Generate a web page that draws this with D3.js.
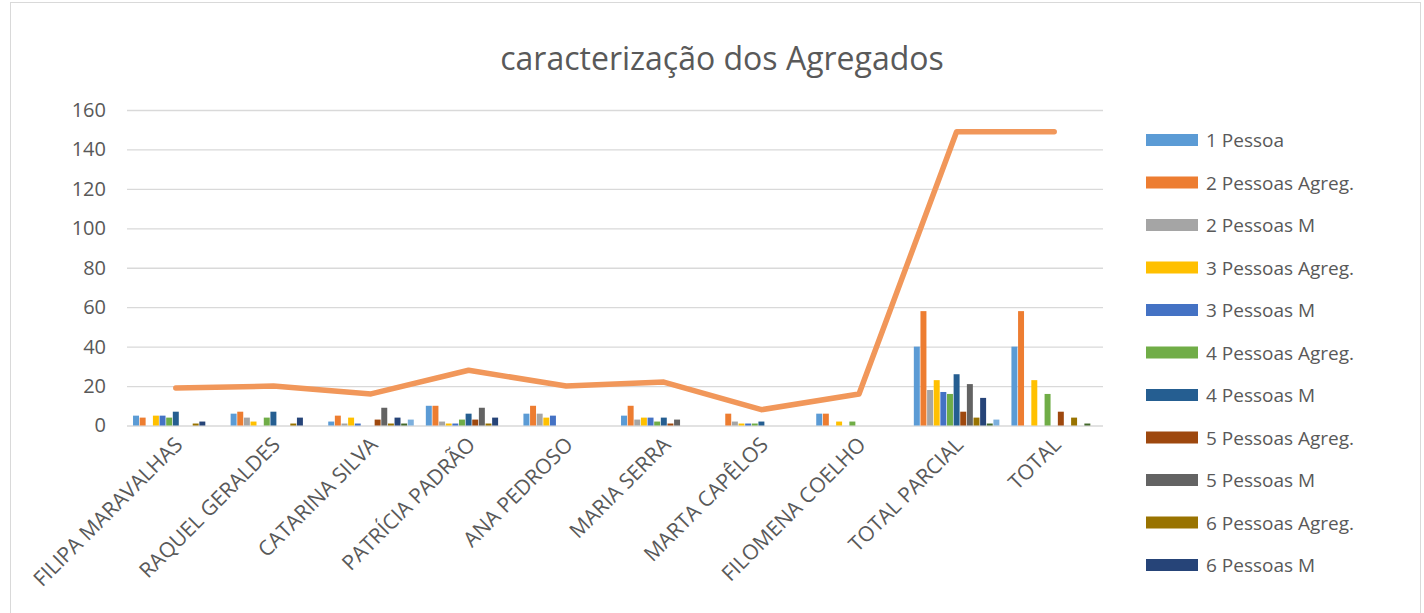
<!DOCTYPE html>
<html>
<head>
<meta charset="utf-8">
<script src="https://cdn.jsdelivr.net/npm/d3@7"></script>
<style>
  body { margin: 0; background: #fff; }
  svg { display: block; font-family: "Open Sans", "Noto Sans", sans-serif; }
</style>
</head>
<body>
<svg width="1424" height="613"></svg>
<script>
// categories (x axis)
var categories = ["FILIPA MARAVALHAS", "RAQUEL GERALDES", "CATARINA SILVA", "PATRÍCIA PADRÃO",
    "ANA PEDROSO", "MARIA SERRA", "MARTA CAPÊLOS", "FILOMENA COELHO", "TOTAL PARCIAL", "TOTAL"];

// bar series, one value per category
var seriesNames = ["1 Pessoa", "2 Pessoas Agreg.", "2 Pessoas M", "3 Pessoas Agreg.", "3 Pessoas M",
    "4 Pessoas Agreg.", "4 Pessoas M", "5 Pessoas Agreg.", "5 Pessoas M", "6 Pessoas Agreg.",
    "6 Pessoas M", "7 Pessoas Agreg.", "7 Pessoas M"];
var seriesColors = ["#5B9BD5", "#ED7D31", "#A5A5A5", "#FFC000", "#4472C4", "#70AD47",
    "#255E91", "#9E480E", "#636363", "#997300", "#264478", "#43682B", "#7CAFDD"];

var pessoa1      = [5, 6, 2, 10, 6, 5, 0, 6, 40, 40];
var pessoas2Agr  = [4, 7, 5, 10, 10, 10, 6, 6, 58, 58];
var pessoas2M    = [0, 4, 1, 2, 6, 3, 2, 0, 18, 0];
var pessoas3Agr  = [5, 2, 4, 1, 4, 4, 1, 2, 23, 23];
var pessoas3M    = [5, 0, 1, 1, 5, 4, 1, 0, 17, 0];
var pessoas4Agr  = [4, 4, 0, 3, 0, 2, 1, 2, 16, 16];
var pessoas4M    = [7, 7, 0, 6, 0, 4, 2, 0, 26, 0];
var pessoas5Agr  = [0, 0, 3, 3, 0, 1, 0, 0, 7, 7];
var pessoas5M    = [0, 0, 9, 9, 0, 3, 0, 0, 21, 0];
var pessoas6Agr  = [1, 1, 1, 1, 0, 0, 0, 0, 4, 4];
var pessoas6M    = [2, 4, 4, 4, 0, 0, 0, 0, 14, 0];
var pessoas7Agr  = [0, 0, 1, 0, 0, 0, 0, 0, 1, 1];
var pessoas7M    = [0, 0, 3, 0, 0, 0, 0, 0, 3, 0];

// line series (total de agregados)
var totalAgregados = [19, 20, 16, 28, 20, 22, 8, 16, 149, 149];

var yTicks = [0, 20, 40, 60, 80, 100, 120, 140, 160];

var seriesValues = [pessoa1, pessoas2Agr, pessoas2M, pessoas3Agr, pessoas3M, pessoas4Agr,
    pessoas4M, pessoas5Agr, pessoas5M, pessoas6Agr, pessoas6M, pessoas7Agr, pessoas7M];

var svg = d3.select("svg");

// chart frame
svg.append("rect")
    .attr("x", 10.5).attr("y", 2.5).attr("width", 1410).attr("height", 640)
    .attr("fill", "none").attr("stroke", "#d9d9d9");

var plotL = 127, plotR = 1103, plotT = 110, plotB = 425.5;

var x0 = d3.scaleBand().domain(categories).range([plotL, plotR])
    .paddingInner(0.11).paddingOuter(0.055);
var x1 = d3.scaleBand().domain(seriesNames).range([0, x0.bandwidth()]).padding(0.1);
var y = d3.scaleLinear().domain([0, 160]).range([plotB, plotT]);

// gridlines + y labels
var yAxis = svg.append("g")
    .attr("transform", "translate(" + plotL + ",0)")
    .call(d3.axisLeft(y).tickValues(yTicks).tickSize(-(plotR - plotL)).tickPadding(21));
yAxis.select(".domain").remove();
yAxis.selectAll("line").attr("stroke", "#d9d9d9").attr("stroke-width", 1.3);
yAxis.selectAll("text").attr("fill", "#595959").attr("font-size", 20)
    .attr("font-family", "Open Sans, sans-serif");

// bars
var groups = svg.append("g").selectAll("g")
    .data(categories).enter().append("g")
    .attr("transform", d => "translate(" + x0(d) + ",0)");

groups.selectAll("rect")
    .data((c, ci) => seriesNames.map((s, si) => ({ s: s, si: si, v: seriesValues[si][ci] })))
    .enter().append("rect")
    .attr("x", d => x1(d.s))
    .attr("width", x1.bandwidth())
    .attr("y", d => y(d.v))
    .attr("height", d => y(0) - y(d.v))
    .attr("fill", d => seriesColors[d.si]);

// line
var lineMaker = d3.line()
    .x((d, i) => x0(categories[i]) + x0.bandwidth() / 2)
    .y(d => y(d));

svg.append("path")
    .attr("fill", "none").attr("stroke", "#F1975A")
    .attr("stroke-width", 5.5).attr("stroke-linejoin", "round").attr("stroke-linecap", "round")
    .attr("d", lineMaker(totalAgregados));

// x labels, rotated
svg.append("g").selectAll("text")
    .data(categories).enter().append("text")
    .attr("transform", d => "translate(" + (x0(d) + x0.bandwidth() / 2 + 8) + ",446) rotate(-45)")
    .attr("text-anchor", "end")
    .attr("font-size", 21)
    .attr("fill", "#595959")
    .text(d => d);

// title
svg.append("text")
    .attr("x", 722).attr("y", 70)
    .attr("text-anchor", "middle")
    .attr("font-size", 32)
    .attr("fill", "#595959")
    .text("caracterização dos Agregados");

// legend (only the first 11 entries fit)
var legend = svg.append("g").selectAll("g")
    .data(seriesNames.slice(0, 11)).enter().append("g")
    .attr("transform", (d, i) => "translate(1146," + (140 + i * 42.5) + ")");
legend.append("rect")
    .attr("x", 0).attr("y", -6).attr("width", 52).attr("height", 12)
    .attr("fill", (d, i) => seriesColors[i]);
legend.append("text")
    .attr("x", 60).attr("y", 7)
    .attr("font-size", 19)
    .attr("fill", "#595959")
    .text(d => d);
</script>
</body>
</html>
